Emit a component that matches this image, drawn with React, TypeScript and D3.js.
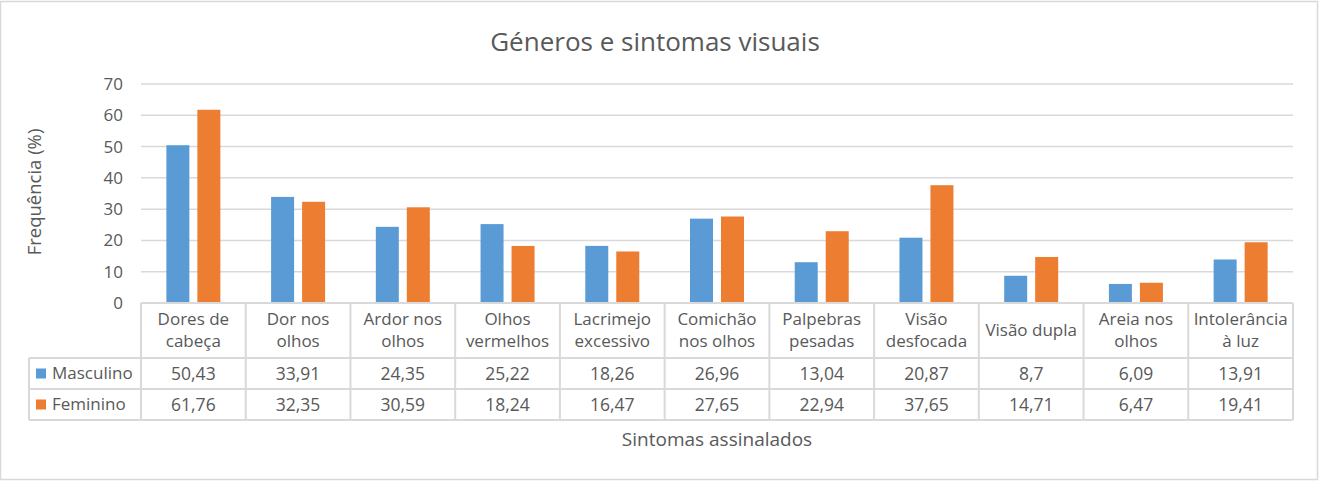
import React from "react";
import * as d3 from "d3";

const categories = [
  "Dores de\ncabeça",
  "Dor nos\nolhos",
  "Ardor nos\nolhos",
  "Olhos\nvermelhos",
  "Lacrimejo\nexcessivo",
  "Comichão\nnos olhos",
  "Palpebras\npesadas",
  "Visão\ndesfocada",
  "Visão dupla",
  "Areia nos\nolhos",
  "Intolerância\nà luz",
];
const masculino = [50.43, 33.91, 24.35, 25.22, 18.26, 26.96, 13.04, 20.87, 8.7, 6.09, 13.91];
const feminino = [61.76, 32.35, 30.59, 18.24, 16.47, 27.65, 22.94, 37.65, 14.71, 6.47, 19.41];
const seriesNames = ["Masculino", "Feminino"];
const seriesColors = ["#5B9BD5", "#ED7D31"];
const yTicks = [0, 10, 20, 30, 40, 50, 60, 70];

const W = 1326;
const H = 489;
const plot = { left: 141, right: 1293, top: 84, bottom: 303 };
const rowTop = [358, 389];
const rowH = 31;
const headerLeft = 29;
const gridColor = "#D9D9D9";
const textColor = "#595959";
const font = "'Open Sans', 'DejaVu Sans', sans-serif";

const fmt = (v: number) => String(v).replace(".", ",");

export default function App() {
  const x = d3.scaleBand<number>()
    .domain(d3.range(categories.length))
    .range([plot.left, plot.right])
    .padding(0);
  const inner = d3.scaleBand<number>()
    .domain([0, 1])
    .range([-27, 27])
    .paddingInner(0.258);
  const y = d3.scaleLinear().domain([0, 70]).range([plot.bottom, plot.top]);
  const series = [masculino, feminino];
  const tableBottom = rowTop[1] + rowH;

  return (
    <svg
      width={W}
      height={H}
      style={{ position: "absolute", left: 0, top: 0, background: "#fff" }}
      fontFamily={font}
    >
      <rect x={0.5} y={1.5} width={1317} height={478} fill="#fff" stroke={gridColor} strokeWidth={1.5} />

      <text x={655} y={51} textAnchor="middle" fontSize={26} fill={textColor}>
        Géneros e sintomas visuais
      </text>

      {/* gridlines + y ticks */}
      {yTicks.map((t) => (
        <g key={t}>
          {t > 0 && (
            <line x1={plot.left} x2={plot.right} y1={y(t)} y2={y(t)} stroke={gridColor} strokeWidth={1.5} />
          )}
          <text x={123} y={y(t)} dy="0.35em" textAnchor="end" fontSize={17} fill={textColor}>
            {t}
          </text>
        </g>
      ))}

      <text
        transform={`translate(41,192) rotate(-90)`}
        textAnchor="middle"
        fontSize={18.5}
        fill={textColor}
      >
        Frequência (%)
      </text>

      {/* bars */}
      {categories.map((_, i) => {
        const c = x(i)! + x.bandwidth() / 2;
        return series.map((s, k) => (
          <rect
            key={`${i}-${k}`}
            x={c + inner(k)!}
            y={y(s[i])}
            width={inner.bandwidth()}
            height={y(0) - y(s[i])}
            fill={seriesColors[k]}
          />
        ));
      })}

      {/* data table */}
      <g stroke={gridColor} strokeWidth={2}>
        <line x1={plot.left} x2={plot.right} y1={plot.bottom} y2={plot.bottom} />
        {rowTop.map((r) => (
          <line key={r} x1={headerLeft} x2={plot.right} y1={r} y2={r} />
        ))}
        <line x1={headerLeft} x2={plot.right} y1={tableBottom} y2={tableBottom} />
        <line x1={headerLeft} x2={headerLeft} y1={rowTop[0]} y2={tableBottom} />
        {d3.range(categories.length + 1).map((i) => {
          const xx = i < categories.length ? x(i)! : plot.right;
          return <line key={i} x1={xx} x2={xx} y1={plot.bottom} y2={tableBottom} />;
        })}
      </g>

      {categories.map((label, i) => {
        const c = x(i)! + x.bandwidth() / 2;
        const lines = label.split("\n");
        const mid = (plot.bottom + rowTop[0]) / 2;
        return (
          <text key={i} textAnchor="middle" fontSize={17} fill={textColor}>
            {lines.map((ln, j) => (
              <tspan key={j} x={c} y={mid + (j - (lines.length - 1) / 2) * 22} dy="0.35em">
                {ln}
              </tspan>
            ))}
          </text>
        );
      })}

      {series.map((s, k) => (
        <g key={k}>
          <rect x={36} y={rowTop[k] + rowH / 2 - 5} width={10} height={10} fill={seriesColors[k]} />
          <text x={52} y={rowTop[k] + rowH / 2} dy="0.35em" fontSize={17} fill={textColor}>
            {seriesNames[k]}
          </text>
          {s.map((v, i) => (
            <text
              key={i}
              x={x(i)! + x.bandwidth() / 2}
              y={rowTop[k] + rowH / 2}
              dy="0.35em"
              textAnchor="middle"
              fontSize={17.5}
              fill={textColor}
            >
              {fmt(v)}
            </text>
          ))}
        </g>
      ))}

      <text x={(plot.left + plot.right) / 2} y={446} textAnchor="middle" fontSize={19} fill={textColor}>
        Sintomas assinalados
      </text>
    </svg>
  );
}
